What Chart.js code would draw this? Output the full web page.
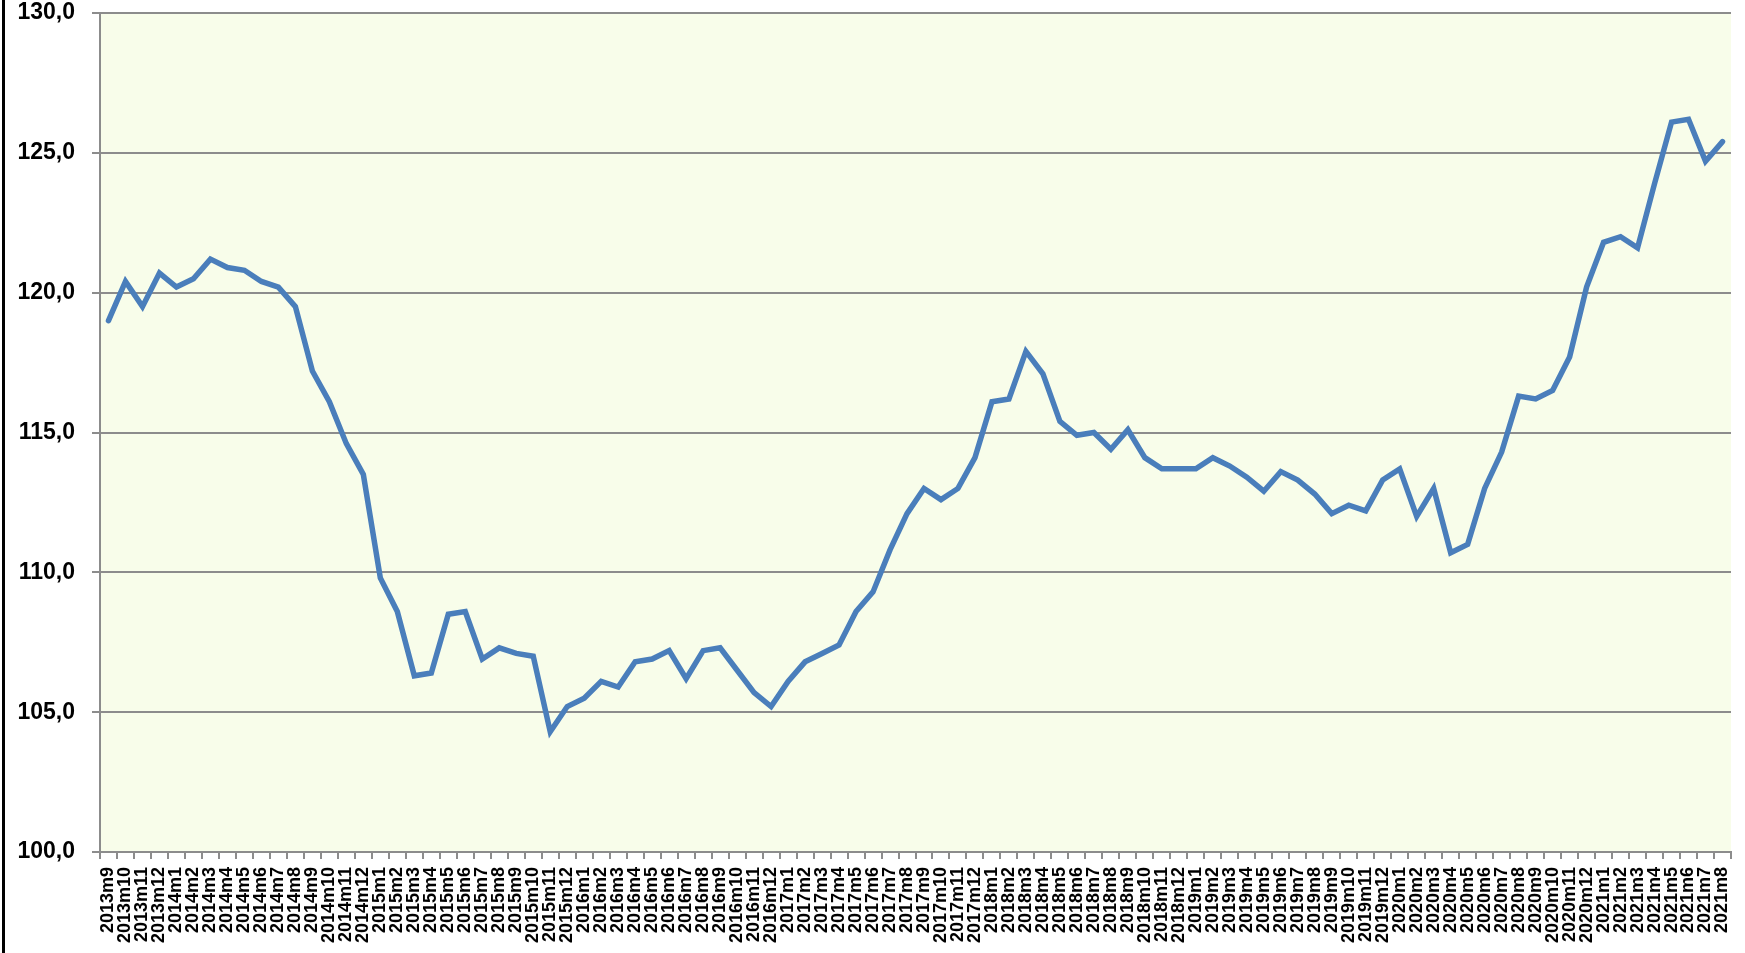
<!DOCTYPE html>
<html lang="en">
<head>
    <meta charset="UTF-8">
    <title>Index 2013m9 - 2021m8</title>
    <style>
        body {
            margin: 0;
            padding: 0;
            background-color: #fff;
            overflow: hidden;
        }

        #wrap {
            position: relative;
            width: 1745px;
            height: 953px;
        }

        #leftLine {
            position: absolute;
            left: 2px;
            top: 0;
            width: 3px;
            height: 953px;
            background-color: #000;
        }
    </style>
    <script src="https://cdn.jsdelivr.net/npm/chart.js"></script>
</head>
<body>
    <div id="wrap">
        <canvas id="myChart"></canvas>
        <div id="leftLine"></div>
    </div>

    <script>
        // months 2013m9 .. 2021m8
        const years = [2013, 2014, 2015, 2016, 2017, 2018, 2019, 2020, 2021];
        const firstMonth = 9;
        const lastMonth = 8;

        const values = [
            119.0, 120.4, 119.5, 120.7,
            120.2, 120.5, 121.2, 120.9, 120.8, 120.4, 120.2, 119.5, 117.2, 116.1, 114.6, 113.5,
            109.8, 108.6, 106.3, 106.4, 108.5, 108.6, 106.9, 107.3, 107.1, 107.0, 104.3, 105.2,
            105.5, 106.1, 105.9, 106.8, 106.9, 107.2, 106.2, 107.2, 107.3, 106.5, 105.7, 105.2,
            106.1, 106.8, 107.1, 107.4, 108.6, 109.3, 110.8, 112.1, 113.0, 112.6, 113.0, 114.1,
            116.1, 116.2, 117.9, 117.1, 115.4, 114.9, 115.0, 114.4, 115.1, 114.1, 113.7, 113.7,
            113.7, 114.1, 113.8, 113.4, 112.9, 113.6, 113.3, 112.8, 112.1, 112.4, 112.2, 113.3,
            113.7, 112.0, 113.0, 110.7, 111.0, 113.0, 114.3, 116.3, 116.2, 116.5, 117.7, 120.2,
            121.8, 122.0, 121.6, 123.9, 126.1, 126.2, 124.7, 125.4
        ];

        const yMin = 100;
        const yMax = 130;
        const yStep = 5;

        var labels = [];
        years.forEach(function(y, i) {
            var start = (i == 0) ? firstMonth : 1;
            var end = (i == years.length - 1) ? lastMonth : 12;
            for (var m = start; m <= end; m++) {
                labels.push(y + 'm' + m);
            }
        });

        const plotBg = {
            id: 'plotBg',
            beforeDraw(chart) {
                const a = chart.chartArea;
                const c = chart.ctx;
                c.save();
                c.fillStyle = '#f8fdea';
                c.fillRect(a.left, a.top, a.right - a.left, a.bottom - a.top);
                c.restore();
            }
        };

        // keep the plot box where it is in the picture
        function noPad(scale) {
            scale.paddingTop = 0;
            scale.paddingBottom = 0;
            scale.paddingLeft = 0;
            scale.paddingRight = 0;
        }

        var ctx = document.getElementById('myChart').getContext('2d');
        var myChart = new Chart(ctx, {
            type: 'line',
            data: {
                labels: labels,
                datasets: [{
                    data: values,
                    borderColor: '#4a7ebb',
                    borderWidth: 5.5,
                    borderCapStyle: 'round',
                    borderJoinStyle: 'miter',
                    pointRadius: 0,
                    tension: 0,
                    fill: false
                }]
            },
            options: {
                responsive: true,
                maintainAspectRatio: false,
                animation: false,
                layout: {
                    padding: { top: 13, right: 14, left: 0, bottom: 0 }
                },
                plugins: {
                    legend: { display: false },
                    tooltip: { enabled: false }
                },
                scales: {
                    x: {
                        offset: true,
                        afterFit: function(scale) { scale.height = 101; noPad(scale); },
                        grid: {
                            offset: true,
                            drawOnChartArea: false,
                            drawTicks: true,
                            tickLength: 7,
                            color: '#8c8c8c',
                            lineWidth: 2
                        },
                        border: { color: '#8c8c8c', width: 2 },
                        ticks: {
                            autoSkip: false,
                            maxRotation: 90,
                            minRotation: 90,
                            padding: 8,
                            color: '#000',
                            font: { family: 'Liberation Sans', size: 18, weight: 'bold' }
                        }
                    },
                    y: {
                        min: yMin,
                        max: yMax,
                        afterFit: function(scale) { scale.width = 100; noPad(scale); },
                        grid: {
                            color: '#8c8c8c',
                            lineWidth: 2,
                            tickLength: 8
                        },
                        border: { color: '#8c8c8c', width: 2 },
                        ticks: {
                            stepSize: yStep,
                            padding: 17,
                            color: '#000',
                            font: { family: 'Liberation Sans', size: 23, weight: 'bold' },
                            callback: function(v) { return v.toFixed(1).replace('.', ','); }
                        }
                    }
                }
            },
            plugins: [plotBg]
        });
    </script>
</body>
</html>
